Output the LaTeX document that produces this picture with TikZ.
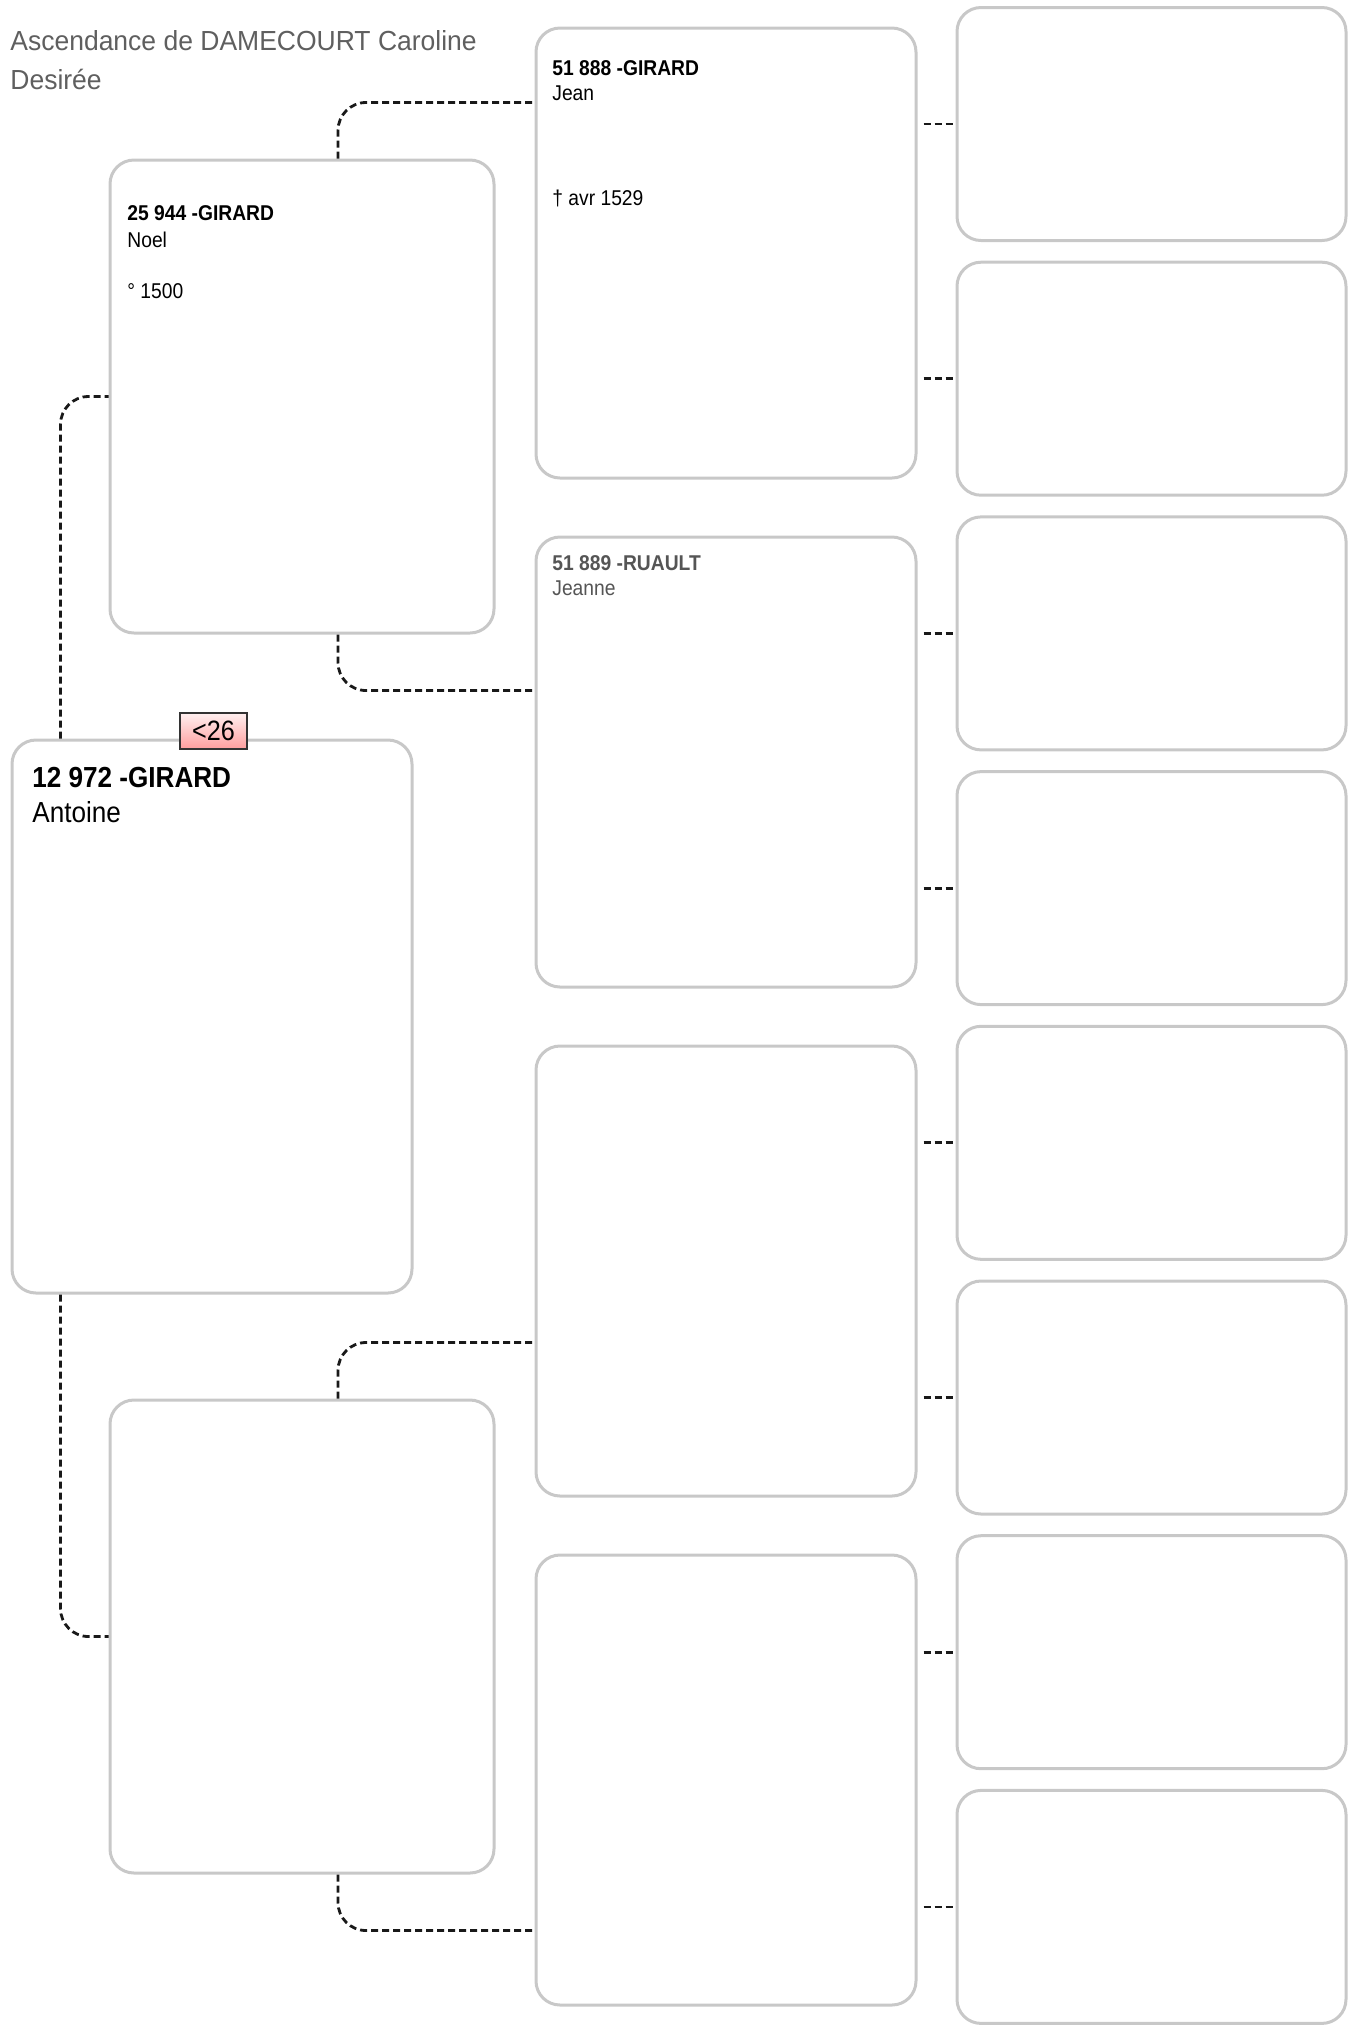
\documentclass[tikz,border=0pt]{standalone}
\usepackage{fontspec}
\setmainfont{Liberation Sans}[FakeStretch=0.9]
\newfontfamily\titlefont{Liberation Sans}[FakeStretch=0.96]
\definecolor{cadre}{HTML}{C8C8C8}
\definecolor{titre}{HTML}{5F5F5F}
\definecolor{gris}{HTML}{555555}
\tikzset{
  person/.style={draw=cadre, line width=1.5pt, rounded corners=12pt, fill=white, inner sep=0pt},
  link/.style={draw=black!90, line width=1.4pt, dash pattern=on 3.5pt off 2pt, rounded corners=14pt},
  txt/.style={anchor=base west, inner sep=0pt, font=\fontsize{10.7pt}{12pt}\selectfont},
  nom/.style={txt, font=\bfseries\fontsize{10.7pt}{12pt}\selectfont},
  badge/.style={draw=black!80, line width=0.8pt, top color=red!6, bottom color=red!38,
    minimum width=33.5pt, minimum height=18pt, inner sep=0pt, font=\fontsize{14pt}{16pt}\selectfont}
}
\begin{document}
\begin{tikzpicture}[x=0.5pt, y=-0.5pt]
  \useasboundingbox (0,0) rectangle (1350,2026);
  % titre
  \node[anchor=base west, inner sep=0pt, text=titre, font=\titlefont\fontsize{13.8pt}{16pt}\selectfont] (titre1) at (10,50) {Ascendance de DAMECOURT Caroline};
  \node[anchor=base west, inner sep=0pt, text=titre, font=\titlefont\fontsize{13.8pt}{16pt}\selectfont] (titre2) at (10,89) {Desirée};
  % generation 1 et 2
  \node[person, minimum width=200pt, minimum height=276.5pt] (antoine) at (212,1016.5) {};
  \node[person, minimum width=192pt, minimum height=236.5pt] (noel) at (302,396.5) {};
  \node[person, minimum width=192pt, minimum height=236.5pt] (mere) at (302,1636.5) {};
  % generation 3 et 4
  \foreach \i in {0,...,3} \node[person, minimum width=190pt, minimum height=225pt] (gp\i) at (726,253+509*\i) {};
  \foreach \i in {0,...,7} \node[person, minimum width=194.5pt, minimum height=116.5pt] (ggp\i) at (1151.5,124+254.7*\i) {};
  % liens
  \draw[link] ([xshift=25pt]antoine.north west) |- (noel.west);
  \draw[link] ([xshift=25pt]antoine.south west) |- (mere.west);
  \draw[link] ([xshift=18pt]noel.north) |- ([yshift=28pt]noel.north -| gp0.west);
  \draw[link] ([xshift=18pt]noel.south) |- ([yshift=-28pt]noel.south -| gp1.west);
  \draw[link] ([xshift=18pt]mere.north) |- ([yshift=28pt]mere.north -| gp2.west);
  \draw[link] ([xshift=18pt]mere.south) |- ([yshift=-28pt]mere.south -| gp3.west);
  \foreach \i in {0,...,7} {
    \pgfmathtruncatemacro\p{div(\i,2)}
    \draw[link] ([xshift=3pt]gp\p.east |- ggp\i.west) -- (ggp\i.west);
  }
  % textes
  \node[badge] (age) at (213.5,731) {<26};
  \node[nom, font=\bfseries\fontsize{14.5pt}{16pt}\selectfont] (antoine1) at (32,787) {12 972 -GIRARD};
  \node[txt, font=\fontsize{14.5pt}{16pt}\selectfont] (antoine2) at (32,822) {Antoine};
  \node[nom] (noel1) at (127,220) {25 944 -GIRARD};
  \node[txt] (noel2) at (127,247) {Noel};
  \node[txt] (noel3) at (127,298) {° 1500};
  \node[nom] (jean1) at (552,75) {51 888 -GIRARD};
  \node[txt] (jean2) at (552,100) {Jean};
  \node[txt] (jean3) at (552,205) {† avr 1529};
  \node[nom, text=gris] (jeanne1) at (552,570) {51 889 -RUAULT};
  \node[txt, text=gris] (jeanne2) at (552,595) {Jeanne};
\end{tikzpicture}
\end{document}
